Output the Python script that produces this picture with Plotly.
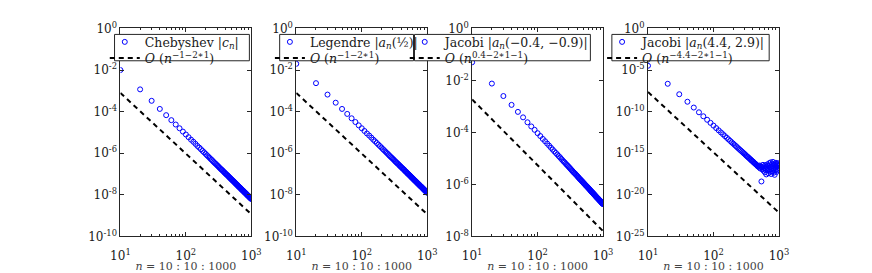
import plotly.graph_objects as go
from plotly.subplots import make_subplots

n_values = list(range(10, 1001, 10))

cheb_log10 = [
    -2.00, -2.93, -3.48, -3.87, -4.17, -4.41, -4.62, -4.80, -4.96, -5.10,
    -5.23, -5.35, -5.45, -5.55, -5.65, -5.73, -5.81, -5.89, -5.96, -6.03,
    -6.10, -6.16, -6.22, -6.28, -6.33, -6.39, -6.44, -6.49, -6.53, -6.58,
    -6.62, -6.67, -6.71, -6.75, -6.79, -6.82, -6.86, -6.90, -6.93, -6.97,
    -7.00, -7.03, -7.06, -7.09, -7.12, -7.16, -7.18, -7.21, -7.24, -7.27,
    -7.29, -7.32, -7.34, -7.37, -7.39, -7.42, -7.44, -7.47, -7.49, -7.51,
    -7.53, -7.56, -7.58, -7.60, -7.62, -7.64, -7.66, -7.68, -7.70, -7.72,
    -7.74, -7.76, -7.78, -7.79, -7.81, -7.83, -7.85, -7.87, -7.88, -7.90,
    -7.91, -7.93, -7.95, -7.96, -7.98, -8.00, -8.01, -8.03, -8.04, -8.06,
    -8.07, -8.09, -8.10, -8.12, -8.13, -8.14, -8.16, -8.17, -8.19, -8.20,
]

legendre_log10 = [
    -1.70, -2.63, -3.18, -3.57, -3.87, -4.11, -4.32, -4.50, -4.66, -4.80,
    -4.93, -5.05, -5.15, -5.25, -5.35, -5.43, -5.51, -5.59, -5.66, -5.73,
    -5.80, -5.86, -5.92, -5.98, -6.03, -6.09, -6.14, -6.19, -6.23, -6.28,
    -6.32, -6.37, -6.41, -6.45, -6.49, -6.52, -6.56, -6.60, -6.63, -6.67,
    -6.70, -6.73, -6.76, -6.79, -6.82, -6.86, -6.88, -6.91, -6.94, -6.97,
    -6.99, -7.02, -7.04, -7.07, -7.09, -7.12, -7.14, -7.17, -7.19, -7.21,
    -7.23, -7.26, -7.28, -7.30, -7.32, -7.34, -7.36, -7.38, -7.40, -7.42,
    -7.44, -7.46, -7.48, -7.49, -7.51, -7.53, -7.55, -7.57, -7.58, -7.60,
    -7.61, -7.63, -7.65, -7.66, -7.68, -7.70, -7.71, -7.73, -7.74, -7.76,
    -7.77, -7.79, -7.80, -7.82, -7.83, -7.84, -7.86, -7.87, -7.89, -7.90,
]

jacobi1_log10 = [
    -1.30, -2.12, -2.60, -2.94, -3.21, -3.42, -3.61, -3.77, -3.90, -4.03,
    -4.14, -4.25, -4.34, -4.43, -4.51, -4.59, -4.66, -4.73, -4.79, -4.85,
    -4.91, -4.96, -5.02, -5.07, -5.12, -5.16, -5.21, -5.25, -5.29, -5.33,
    -5.37, -5.41, -5.45, -5.48, -5.52, -5.55, -5.58, -5.61, -5.64, -5.67,
    -5.70, -5.73, -5.76, -5.79, -5.81, -5.84, -5.86, -5.89, -5.91, -5.94,
    -5.96, -5.98, -6.01, -6.03, -6.05, -6.07, -6.09, -6.11, -6.13, -6.15,
    -6.17, -6.19, -6.21, -6.23, -6.25, -6.27, -6.29, -6.30, -6.32, -6.34,
    -6.35, -6.37, -6.39, -6.40, -6.42, -6.44, -6.45, -6.47, -6.48, -6.50,
    -6.51, -6.53, -6.54, -6.55, -6.57, -6.58, -6.60, -6.61, -6.62, -6.63,
    -6.65, -6.66, -6.67, -6.69, -6.70, -6.71, -6.72, -6.74, -6.75, -6.76,
]

jacobi2_log10 = [
    -4.48, -6.65, -7.91, -8.81, -9.51, -10.08, -10.56, -10.98, -11.35, -11.68,
    -11.98, -12.25, -12.50, -12.73, -12.95, -13.15, -13.34, -13.52, -13.69, -13.85,
    -14.00, -14.14, -14.29, -14.42, -14.55, -14.67, -14.78, -14.90, -15.01, -15.11,
    -15.22, -15.32, -15.42, -15.50, -15.60, -15.68, -15.77, -15.86, -15.94, -16.01,
    -16.09, -16.17, -16.24, -16.31, -16.38, -16.45, -16.52, -16.60, -16.55, -16.72,
    -16.48, -16.85, -16.62, -18.40, -16.70, -16.95, -16.40, -17.10, -16.58, -16.80,
    -17.30, -16.45, -16.90, -17.55, -16.60, -16.35, -17.05, -16.75, -17.40, -16.50,
    -16.20, -16.95, -17.20, -16.65, -16.10, -17.50, -16.85, -16.30, -17.15, -16.55,
    -16.05, -16.90, -17.35, -16.40, -16.70, -17.60, -16.25, -16.80, -17.00, -16.15,
    -16.60, -17.25, -16.45, -16.90, -16.30, -17.05, -16.55, -16.20, -16.75, -16.40,
]

ref_n = [10, 1000]
ref1_log10 = [-3.10, -8.94]
ref2_log10 = [-3.10, -8.94]
ref3_log10 = [-2.73, -7.80]
ref4_log10 = [-7.64, -22.15]

series_names = [
    "Chebyshev |<i>c<sub>n</sub></i>|",
    "Legendre |<i>a<sub>n</sub></i>(½)|",
    "Jacobi |<i>a<sub>n</sub></i>(−0.4, −0.9)|",
    "Jacobi |<i>a<sub>n</sub></i>(4.4, 2.9)|",
]
ref_names = [
    "<i>O</i> (<i>n</i><sup>−1−2∗1</sup>)",
    "<i>O</i> (<i>n</i><sup>−1−2∗1</sup>)",
    "<i>O</i> (<i>n</i><sup>0.4−2∗1−1</sup>)",
    "<i>O</i> (<i>n</i><sup>−4.4−2∗1−1</sup>)",
]
y_ranges = [(-10, 0), (-10, 0), (-8, 0), (-25, 0)]
y_tick_exps = [
    [0, -2, -4, -6, -8, -10],
    [0, -2, -4, -6, -8, -10],
    [0, -2, -4, -6, -8],
    [0, -5, -10, -15, -20, -25],
]
x_tick_exps = [1, 2, 3]
x_title = "<i>n</i> = 10 : 10 : 1000"

data_sets = [cheb_log10, legendre_log10, jacobi1_log10, jacobi2_log10]
ref_sets = [ref1_log10, ref2_log10, ref3_log10, ref4_log10]

W, H = 872, 273
x_px = [(113, 247), (293, 427), (473, 607), (653, 787)]
y_px = (20.7, 241.5)
legend_box_px = [(107, 27, 245, 55), (276, 27, 413, 55), (414, 27, 594, 55), (616, 27, 777, 55)]
legend_rows_top_px = (19.4, 36.5)

FONT = "DejaVu Serif, Liberation Serif, serif"
AX = "#262626"
TXT = "#1a1a1a"

fig = make_subplots(rows=1, cols=4)
minor_vals = [v * m for v in (10, 100) for m in range(2, 10)]

shapes = []
for i in range(4):
    leg_a = "legend" if i == 0 else f"legend{2 * i + 1}"
    leg_b = f"legend{2 * i + 2}"
    fig.add_trace(go.Scatter(
        x=n_values, y=[10 ** v for v in data_sets[i]], mode="markers",
        name=series_names[i], legend=leg_a,
        marker=dict(symbol="circle-open", size=5, color="#0000ff",
                    line=dict(width=1, color="#0000ff")),
    ), row=1, col=i + 1)
    fig.add_trace(go.Scatter(
        x=ref_n, y=[10 ** v for v in ref_sets[i]], mode="lines",
        name=ref_names[i], legend=leg_b,
        line=dict(color="black", width=2, dash="5px,4px"),
    ), row=1, col=i + 1)

    x0, x1 = x_px[i]
    axis_common = dict(
        showline=True, linecolor=AX, linewidth=1, mirror="ticks",
        ticks="inside", ticklen=4, tickcolor=AX, showgrid=False, zeroline=False,
        tickfont=dict(family=FONT, size=12, color=TXT),
    )
    fig.update_xaxes(
        type="log", range=[1, 3], domain=[x0 / W, x1 / W],
        tickvals=[10 ** e for e in x_tick_exps],
        ticktext=[f"10<sup>{e}</sup>" for e in x_tick_exps],
        minor=dict(ticks="inside", ticklen=2, tickcolor=AX, tickvals=minor_vals),
        ticklabelstandoff=8,
        title=dict(text=x_title, font=dict(family=FONT, size=11, color="#444"), standoff=0),
        **axis_common, row=1, col=i + 1,
    )
    fig.update_yaxes(
        type="log", range=[y_ranges[i][0], y_ranges[i][1]],
        domain=[1 - y_px[1] / H, 1 - y_px[0] / H],
        tickvals=[10 ** e for e in y_tick_exps[i]],
        ticktext=[f"10<sup>{e}</sup>" for e in y_tick_exps[i]],
        **axis_common, row=1, col=i + 1,
    )
    bx0, by0, bx1, by1 = legend_box_px[i]
    shapes.append(dict(
        type="rect", xref="paper", yref="paper",
        x0=bx0 / W, x1=bx1 / W, y0=1 - by1 / H, y1=1 - by0 / H,
        fillcolor="white", line=dict(color=AX, width=1), layer="above",
    ))
    for leg, row_top in ((leg_a, legend_rows_top_px[0]), (leg_b, legend_rows_top_px[1])):
        fig.update_layout({leg: dict(
            x=(bx0 - 10) / W, y=1 - row_top / H, xanchor="left", yanchor="top",
            bgcolor="rgba(0,0,0,0)", borderwidth=0,
            font=dict(family=FONT, size=12.5, color=TXT),
            tracegroupgap=0, itemwidth=30,
        )})

fig.update_layout(
    width=W, height=H, margin=dict(l=0, r=0, t=0, b=0),
    paper_bgcolor="white", plot_bgcolor="white", showlegend=True,
    shapes=shapes,
)

fig.write_html("out.html", config={"displayModeBar": False},
               post_script="document.body.style.margin='0';")
